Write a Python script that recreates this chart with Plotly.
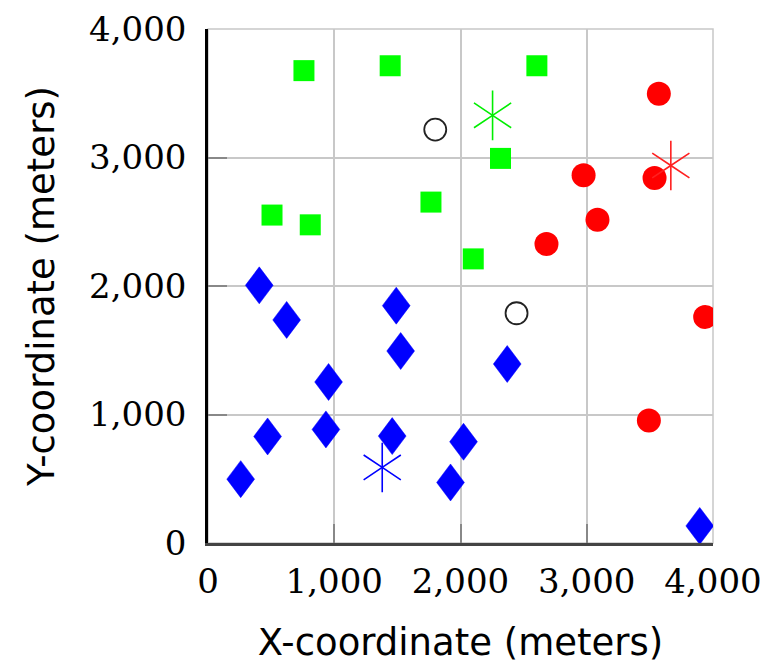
import plotly.graph_objects as go

# Data (meters)
blue_x = [406, 623, 1491, 1526, 955, 2370, 472, 934, 1459, 2024, 259, 1921, 3895]
blue_y = [2005, 1736, 1847, 1494, 1253, 1393, 829, 884, 832, 788, 497, 471, 133]
green_x = [760, 1443, 2605, 2317, 507, 810, 1766, 2101]
green_y = [3676, 3714, 3714, 2993, 2552, 2476, 2653, 2211]
red_x = [3571, 2975, 3537, 3085, 2681, 3938, 3492]
red_y = [3497, 2861, 2840, 2515, 2326, 1759, 954]
black_x = [1800, 2444]
black_y = [3217, 1788]
center_x = [1380, 2254, 3666]
center_y = [588, 3328, 2938]
center_colors = ["#0000ff", "#00ee00", "#ff2020"]

tick_vals = [0, 1000, 2000, 3000, 4000]
tick_text = ["0", "1,000", "2,000", "3,000", "4,000"]

# diamond marker half-extent, in axis units (about 14 px wide, 18.5 px tall at this size)
DIA_HW = 110
DIA_HH = 144

dx, dy = [], []
for bx, by in zip(blue_x, blue_y):
    dx += [bx, bx + DIA_HW, bx, bx - DIA_HW, bx, None]
    dy += [by + DIA_HH, by, by - DIA_HH, by, by + DIA_HH, None]

fig = go.Figure()
fig.add_trace(go.Scatter(x=dx, y=dy, mode="lines", fill="toself",
                         fillcolor="#0000ff", line=dict(width=0.5, color="#0000ff"),
                         hoverinfo="skip"))
fig.add_trace(go.Scatter(x=green_x, y=green_y, mode="markers",
                         marker=dict(symbol="square", size=21, color="#00ff00",
                                     line=dict(width=0))))
fig.add_trace(go.Scatter(x=red_x, y=red_y, mode="markers",
                         marker=dict(symbol="circle", size=24, color="#ff0000",
                                     line=dict(width=0))))
fig.add_trace(go.Scatter(x=black_x, y=black_y, mode="markers",
                         marker=dict(symbol="circle-open", size=22, color="#222222",
                                     line=dict(width=1.8))))
for sym in ["y-up-open", "y-down-open"]:
    fig.add_trace(go.Scatter(x=center_x, y=center_y, mode="markers",
                             marker=dict(symbol=sym, size=31, color=center_colors,
                                         line=dict(width=1.6, color=center_colors))))

tick_font = dict(family="DejaVu Serif", size=34, color="#000000")
title_font = dict(family="DejaVu Sans", size=37, color="#000000")

fig.update_layout(
    width=775, height=670,
    margin=dict(l=208, r=62, t=29, b=127),
    paper_bgcolor="white", plot_bgcolor="white",
    showlegend=False,
    shapes=[dict(type="rect", xref="paper", yref="paper", x0=0, y0=0, x1=1, y1=1,
                 line=dict(color="#c8c8c8", width=1.5), layer="below")],
)
fig.update_xaxes(range=[0, 4000], tickvals=tick_vals, ticktext=tick_text,
                 showgrid=True, gridcolor="#c8c8c8", gridwidth=1.5,
                 showline=True, linecolor="#444444", linewidth=2.5,
                 ticks="inside", ticklen=19, tickcolor="#888888", tickwidth=1.5,
                 tickfont=tick_font, zeroline=False, ticklabelstandoff=6,
                 automargin=False,
                 title=dict(text="X-coordinate (meters)", font=title_font, standoff=30))
fig.update_yaxes(range=[0, 4000], tickvals=tick_vals, ticktext=tick_text,
                 showgrid=True, gridcolor="#c8c8c8", gridwidth=1.5,
                 showline=True, linecolor="#000000", linewidth=2.5,
                 ticks="inside", ticklen=19, tickcolor="#888888", tickwidth=1.5,
                 tickfont=tick_font, zeroline=False, ticklabelstandoff=12,
                 automargin=False,
                 title=dict(text="Y-coordinate (meters)", font=title_font, standoff=24))

fig.write_html("out.html")
